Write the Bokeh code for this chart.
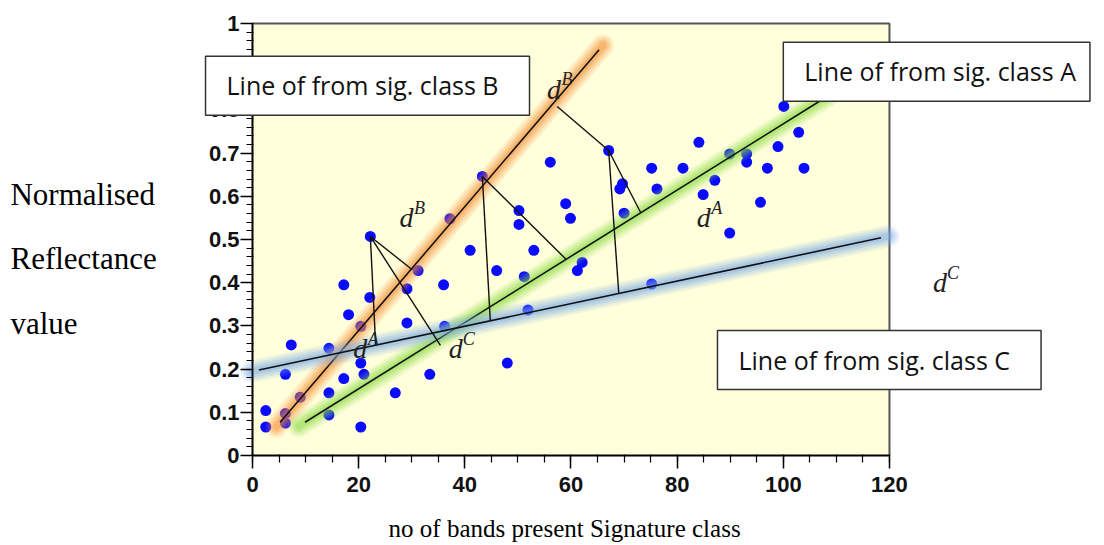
from bokeh.plotting import figure
from bokeh.models import Range1d, FixedTicker, CustomJSTickFormatter, Label
from bokeh.embed import file_html
from bokeh.resources import INLINE

# ---- measured samples: no. of bands vs normalised reflectance ----
bands = [37.2, 22.2, 41.0, 53.0, 50.2, 50.2, 59.0, 59.9, 62.1, 61.2,
         31.2, 29.1, 36.0, 46.0, 51.2, 17.2, 22.1, 18.1, 20.4, 29.1,
         36.2, 51.9, 7.3, 14.4, 20.4, 21.0, 6.2, 17.2, 33.4, 48.0,
         26.9, 14.4, 9.0, 2.5, 2.5, 6.2, 6.2, 14.4, 20.4, 67.1,
         56.1, 84.1, 100.1, 102.9, 99.0, 75.2, 81.1, 89.9, 93.1, 93.1,
         97.0, 103.9, 76.2, 69.7, 69.2, 87.1, 84.9, 95.7, 70.0, 89.9,
         75.2, 43.3]
reflectance = [0.548, 0.507, 0.475, 0.475, 0.567, 0.535, 0.583, 0.549, 0.447, 0.428,
               0.428, 0.386, 0.395, 0.428, 0.414, 0.395, 0.366, 0.326, 0.299, 0.307,
               0.299, 0.337, 0.256, 0.248, 0.214, 0.188, 0.188, 0.178, 0.188, 0.214,
               0.145, 0.145, 0.135, 0.104, 0.066, 0.097, 0.075, 0.094, 0.066, 0.706,
               0.679, 0.725, 0.808, 0.748, 0.715, 0.665, 0.665, 0.698, 0.698, 0.679,
               0.665, 0.665, 0.617, 0.629, 0.617, 0.637, 0.604, 0.586, 0.561, 0.515,
               0.397, 0.646]

# ---- class lines (end points) ----
class_b_x = [5.2, 65.3]
class_b_y = [0.077, 0.939]
class_a_x = [9.9, 107.2]
class_a_y = [0.077, 0.823]
class_c_x = [1.2, 118.4]
class_c_y = [0.198, 0.504]

# ---- distance segments from samples to class lines ----
dist_x0 = [22.2, 22.2, 22.2, 43.3, 43.3, 67.1, 67.1, 57.4]
dist_y0 = [0.507, 0.507, 0.507, 0.646, 0.646, 0.706, 0.706, 0.808]
dist_x1 = [23.2, 30.1, 35.4, 44.8, 59.0, 69.0, 73.1, 67.1]
dist_y1 = [0.255, 0.430, 0.255, 0.312, 0.455, 0.376, 0.563, 0.706]

x_ticks = [0, 20, 40, 60, 80, 100, 120]
y_ticks = [round(i * 0.1, 1) for i in range(11)]

ORANGE = "#f58a30"
GREEN = "#86d83c"
BLUE = "#78a8e4"
PLOT_BG = "#ffffdc"

W, H = 1104, 545
# the frame fills the whole canvas so captions may sit on both sides of the plot box
x_lo, x_hi = -47.475, 160.51
y_lo, y_hi = -0.2083, 1.0532

p = figure(width=W, height=H, x_range=Range1d(x_lo, x_hi), y_range=Range1d(y_lo, y_hi),
           output_backend="svg", toolbar_location=None,
           min_border_left=0, min_border_right=0, min_border_top=0, min_border_bottom=0)
p.background_fill_color = "white"
p.border_fill_color = "white"
p.outline_line_color = None
p.xgrid.visible = False
p.ygrid.visible = False

tick_font = "'Liberation Sans', Arial, sans-serif"
serif = "'Liberation Serif', 'Times New Roman', serif"

# plot box
p.quad(left=x_ticks[0], right=x_ticks[-1], bottom=y_ticks[0], top=y_ticks[-1],
       fill_color=PLOT_BG, line_color="#555555", line_width=2)

p.xaxis.fixed_location = 0
p.yaxis.fixed_location = 0
p.xaxis.bounds = (x_ticks[0], x_ticks[-1])
p.yaxis.bounds = (y_ticks[0], y_ticks[-1])
p.xaxis.ticker = FixedTicker(ticks=x_ticks, minor_ticks=[v for v in range(0, 121, 5)])
p.yaxis.ticker = FixedTicker(ticks=y_ticks, minor_ticks=[round(i * 0.02, 2) for i in range(51)])
p.yaxis.formatter = CustomJSTickFormatter(
    code="return (tick === 0 || tick === 1) ? tick.toFixed(0) : tick.toFixed(1);")
for ax in (p.xaxis, p.yaxis):
    ax.axis_line_color = "black"
    ax.axis_line_width = 1.5
    ax.major_tick_line_color = "black"
    ax.minor_tick_line_color = "black"
    ax.major_tick_line_width = 1.5
    ax.minor_tick_line_width = 1.2
    ax.major_tick_in = 0
    ax.minor_tick_in = 1
    ax.major_label_text_font = tick_font
    ax.major_label_text_font_style = "bold"
    ax.major_label_text_font_size = "22px"
    ax.major_label_text_color = "#111111"
p.xaxis.major_tick_out = 13
p.xaxis.minor_tick_out = 7
p.xaxis.major_label_standoff = 8
p.yaxis.major_tick_out = 12
p.yaxis.minor_tick_out = 6
p.yaxis.major_label_standoff = 1

# samples
p.scatter(bands, reflectance, size=11, color="#0a0aff", line_color=None)


def extend(xs, ys, frac):
    dx = (xs[1] - xs[0]) * frac
    dy = (ys[1] - ys[0]) * frac
    return [xs[0] - dx, xs[1] + dx], [ys[0] - dy, ys[1] + dy]


# soft glow behind each class line, then the line itself
for xs, ys, col in ((class_b_x, class_b_y, ORANGE),
                    (class_a_x, class_a_y, GREEN),
                    (class_c_x, class_c_y, BLUE)):
    gx, gy = extend(xs, ys, 0.012)
    for w, a in ((22, 0.14), (17, 0.18), (12, 0.24), (7, 0.3)):
        p.line(gx, gy, line_width=w, line_color=col, line_alpha=a, line_cap="round")
    p.line(xs, ys, line_width=1.6, line_color="#111111")

p.segment(dist_x0, dist_y0, dist_x1, dist_y1, line_color="#111111", line_width=1.4)

# distance symbols d^B, d^A, d^C
for sup, x, y in (("B", 56.8, 0.848), ("B", 29.0, 0.55), ("A", 85.0, 0.55),
                  ("A", 20.3, 0.247), ("C", 38.3, 0.247), ("C", 129.5, 0.40)):
    p.add_layout(Label(x=x, y=y, text="d", text_font=serif, text_font_style="italic",
                       text_font_size="28px", text_color="#222222",
                       text_align="center", text_baseline="middle"))
    p.add_layout(Label(x=x, y=y, x_offset=13, y_offset=10, text=sup, text_font=serif,
                       text_font_style="italic", text_font_size="18px",
                       text_color="#222222", text_align="center", text_baseline="middle"))

# boxed captions
box_font = "'Open Sans', sans-serif"
for txt, x, y, pad_r in (("Line of from sig. class B", -8.85, 0.856, 31),
                         ("Line of from sig. class A", 100.0, 0.888, 14),
                         ("Line of from sig. class C", 87.6, 0.221, 31)):
    p.add_layout(Label(x=x, y=y, text=txt, text_font=box_font, text_font_size="25px",
                       text_color="#111111", text_align="left", text_baseline="middle",
                       background_fill_color="white", border_line_color="#333333",
                       border_line_width=1.5, padding=(21, pad_r, 12, 13)))

# axis titles
for txt, y in (("Normalised", 0.603), ("Reflectance", 0.457), ("value", 0.306)):
    p.add_layout(Label(x=-45.6, y=y, text=txt, text_font=serif, text_font_size="31px",
                       text_color="black", text_align="left", text_baseline="middle"))
p.add_layout(Label(x=58.8, y=-0.17, text="no of bands present Signature class",
                   text_font=serif, text_font_size="25px", text_color="black",
                   text_align="center", text_baseline="middle"))

open("out.html", "w").write(file_html(p, INLINE))
